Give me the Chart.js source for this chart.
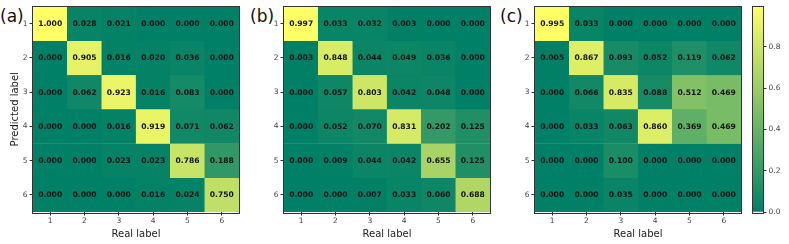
<!DOCTYPE html>
<html>
<head>
<meta charset="utf-8">
<script src="https://cdn.jsdelivr.net/npm/chart.js@4.4.1/dist/chart.umd.min.js"></script>
<style>
  body { margin: 0; background: #fff; width: 789px; height: 244px; overflow: hidden; position: relative; }
  canvas { position: absolute; top: 0; }
  .tag { position: absolute; top: 8px; font: 17px "DejaVu Sans"; color: #111; line-height: 1; }
</style>
</head>
<body>
<div class="tag" style="left:0px">(a)</div>
<div class="tag" style="left:250px">(b)</div>
<div class="tag" style="left:500px">(c)</div>
<canvas id="panelA" width="245" height="244" style="left:0px"></canvas>
<canvas id="panelB" width="250" height="244" style="left:250px"></canvas>
<canvas id="panelC" width="240" height="244" style="left:505px"></canvas>
<canvas id="cbar" width="44" height="244" style="left:745px"></canvas>
<script>
// rows = predicted label, columns = real label
const realLabels = ['1', '2', '3', '4', '5', '6'];
const predLabels = [1, 2, 3, 4, 5, 6];

const valsA = [
    [1.000, 0.028, 0.021, 0.000, 0.000, 0.000],
    [0.000, 0.905, 0.016, 0.020, 0.036, 0.000],
    [0.000, 0.062, 0.923, 0.016, 0.083, 0.000],
    [0.000, 0.000, 0.016, 0.919, 0.071, 0.062],
    [0.000, 0.000, 0.023, 0.023, 0.786, 0.188],
    [0.000, 0.000, 0.000, 0.016, 0.024, 0.750]
];
const valsB = [
    [0.997, 0.033, 0.032, 0.003, 0.000, 0.000],
    [0.003, 0.848, 0.044, 0.049, 0.036, 0.000],
    [0.000, 0.057, 0.803, 0.042, 0.048, 0.000],
    [0.000, 0.052, 0.070, 0.831, 0.202, 0.125],
    [0.000, 0.009, 0.044, 0.042, 0.655, 0.125],
    [0.000, 0.000, 0.007, 0.033, 0.060, 0.688]
];
const valsC = [
    [0.995, 0.033, 0.000, 0.000, 0.000, 0.000],
    [0.005, 0.867, 0.093, 0.052, 0.119, 0.062],
    [0.000, 0.066, 0.835, 0.088, 0.512, 0.469],
    [0.000, 0.033, 0.063, 0.860, 0.369, 0.469],
    [0.000, 0.000, 0.100, 0.000, 0.000, 0.000],
    [0.000, 0.000, 0.035, 0.000, 0.000, 0.000]
];
const cbarTicks = [0.0, 0.2, 0.4, 0.6, 0.8];

Chart.defaults.font.family = 'DejaVu Sans';
Chart.defaults.animation = false;

// matplotlib "summer" colormap
function summer(t) {
    t = Math.max(0, Math.min(1, t));
    return 'rgb(' + Math.round(255 * t) + ',' + Math.round(127.5 + 127.5 * t) + ',102)';
}

const frame = {
    id: 'frame',
    afterDraw(chart) {
        const a = chart.chartArea, c = chart.ctx;
        c.save();
        c.strokeStyle = '#333';
        c.lineWidth = 1;
        c.strokeRect(Math.round(a.left) - 0.5, Math.round(a.top) - 0.5,
            Math.round(a.right - a.left) + 1, Math.round(a.bottom - a.top) + 1);
        c.restore();
    }
};

const cellText = {
    id: 'cellText',
    afterDatasetsDraw(chart) {
        const c = chart.ctx;
        c.save();
        c.font = 'bold 7.6px "DejaVu Sans"';
        c.fillStyle = '#111';
        c.textAlign = 'center';
        c.textBaseline = 'middle';
        chart.data.datasets.forEach((ds, i) => {
            chart.getDatasetMeta(i).data.forEach((el, j) => {
                const p = el.getCenterPoint();
                c.fillText(ds.values[j].toFixed(3), p.x, p.y + 0.5);
            });
        });
        c.restore();
    }
};

function makePanel(id, vals, yWidth, padRight, showYTitle) {
    const vmax = Math.max(...vals.flat());
    const datasets = vals.map((row, i) => ({
        data: row.map(() => [predLabels[i] - 0.5, predLabels[i] + 0.5]),
        values: row,
        backgroundColor: row.map(v => summer(v / vmax)),
        borderColor: row.map(v => summer(v / vmax)),
        borderWidth: 0.6,
        borderSkipped: false,
        grouped: false,
        barPercentage: 1,
        categoryPercentage: 1
    }));
    return new Chart(document.getElementById(id), {
        type: 'bar',
        data: { labels: realLabels, datasets: datasets },
        options: {
            responsive: false,
            layout: { padding: { top: 5, right: padRight, left: 0, bottom: 0 } },
            plugins: { legend: { display: false }, tooltip: { enabled: false } },
            scales: {
                x: {
                    type: 'category',
                    offset: true,
                    afterFit: s => { s.height = 32; },
                    grid: { offset: false, drawOnChartArea: false, tickLength: 3.5, color: '#333' },
                    border: { display: false },
                    ticks: { color: '#444', font: { size: 7.5 }, padding: 1, maxRotation: 0 },
                    title: { display: true, text: 'Real label', color: '#222', font: { size: 10 }, padding: { top: 2, bottom: 4 } }
                },
                y: {
                    type: 'linear',
                    reverse: true,
                    min: 0.5,
                    max: 6.5,
                    afterFit: s => { s.width = yWidth; },
                    afterBuildTicks: s => { s.ticks = predLabels.map(v => ({ value: v })); },
                    grid: { drawOnChartArea: false, tickLength: 3.5, color: '#333' },
                    border: { display: false },
                    ticks: { color: '#444', font: { size: 7.5 }, padding: 2, callback: v => String(v) },
                    title: { display: showYTitle, text: 'Predicted label', color: '#222', font: { size: 10 }, padding: { top: 9, bottom: 0 } }
                }
            }
        },
        plugins: [cellText, frame]
    });
}

makePanel('panelA', valsA, 33, 6, true);
makePanel('panelB', valsB, 34, 10, false);
makePanel('panelC', valsC, 30, 4, false);

// colorbar, scaled like panel (c)
const cmax = Math.max(...valsC.flat());
new Chart(document.getElementById('cbar'), {
    type: 'bar',
    data: {
        labels: [''],
        datasets: [{
            data: [[0, cmax]],
            barPercentage: 1,
            categoryPercentage: 1,
            borderWidth: 0,
            backgroundColor: ctx => {
                const a = ctx.chart.chartArea;
                if (!a) return summer(0);
                const g = ctx.chart.ctx.createLinearGradient(0, a.bottom, 0, a.top);
                g.addColorStop(0, summer(0));
                g.addColorStop(1, summer(1));
                return g;
            }
        }]
    },
    options: {
        responsive: false,
        layout: { padding: { top: 6, left: 8, right: 0, bottom: 32 } },
        plugins: { legend: { display: false }, tooltip: { enabled: false } },
        scales: {
            x: { display: false },
            y: {
                position: 'right',
                min: 0,
                max: cmax,
                afterFit: s => { s.width = 26; },
                afterBuildTicks: s => { s.ticks = cbarTicks.map(v => ({ value: v })); },
                grid: { drawOnChartArea: false, tickLength: 3.5, color: '#333' },
                border: { display: false },
                ticks: { color: '#444', font: { size: 7.5 }, padding: 2, callback: v => v.toFixed(1) }
            }
        }
    },
    plugins: [frame]
});
</script>
</body>
</html>
